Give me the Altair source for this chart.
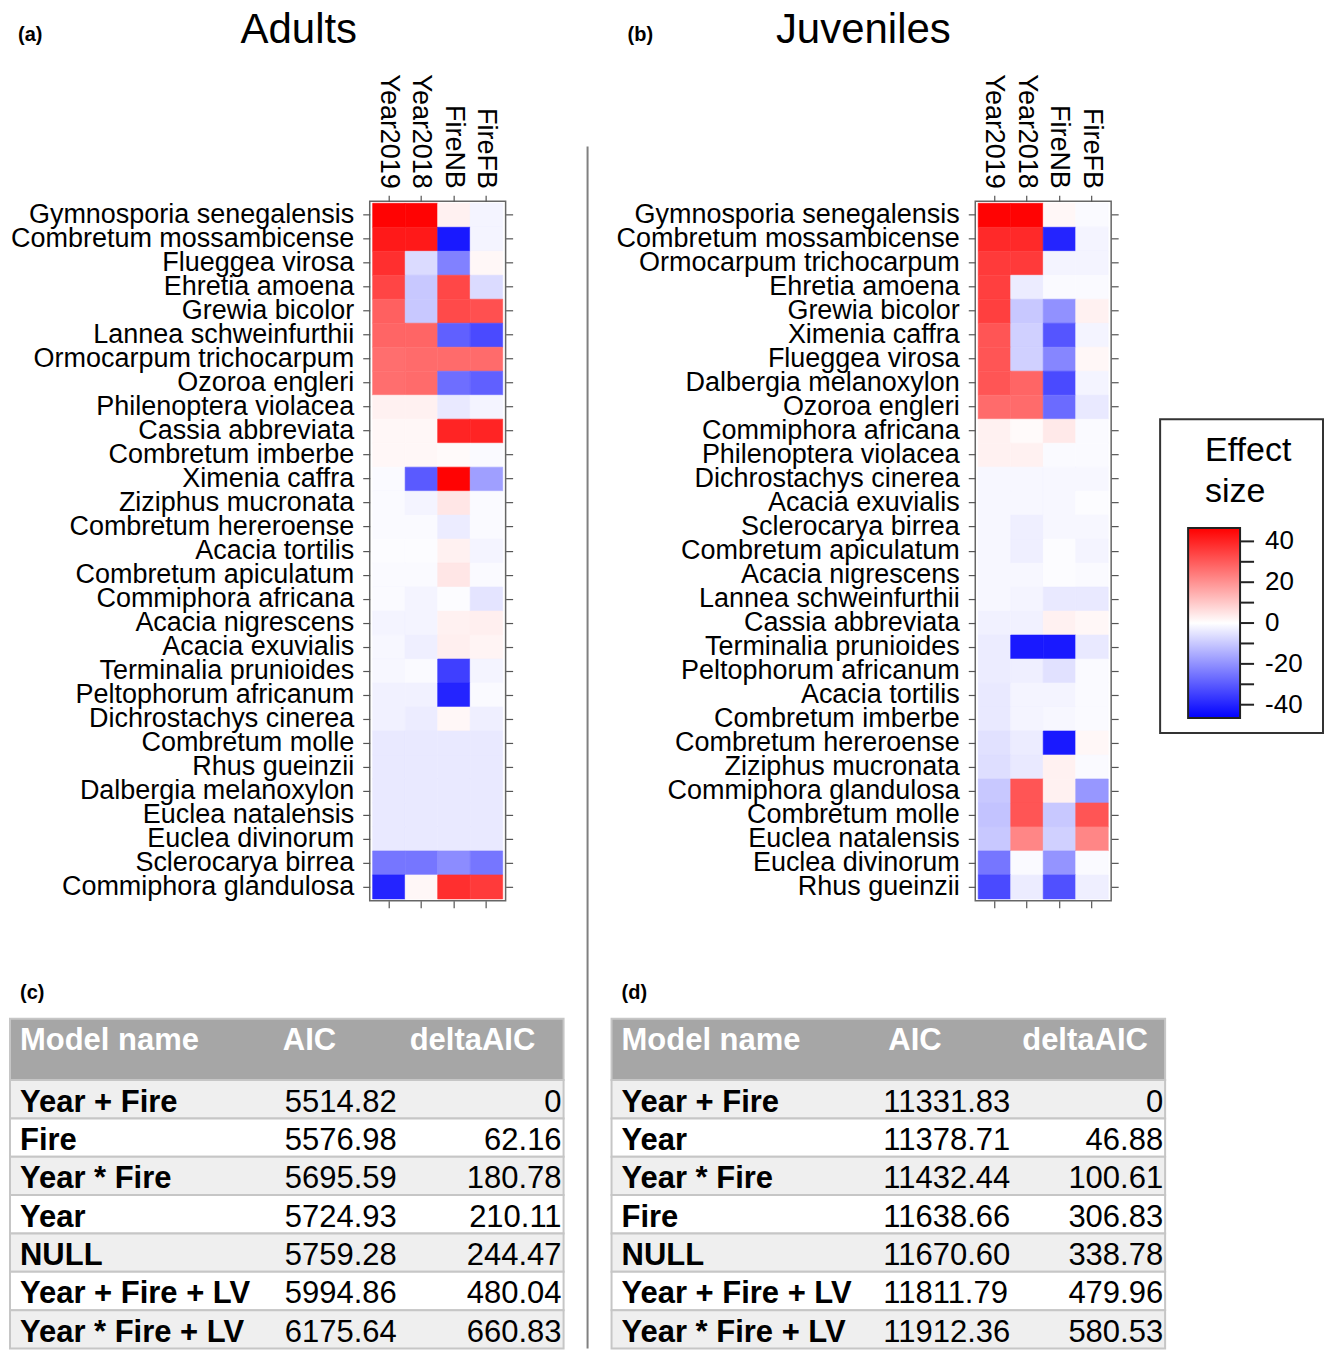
import altair as alt
import pandas as pd

FONT = "Liberation Sans"
TICK = "#555555"

terms = ["Year2019", "Year2018", "FireNB", "FireFB"]

adult_species = [
    "Gymnosporia senegalensis", "Combretum mossambicense", "Flueggea virosa",
    "Ehretia amoena", "Grewia bicolor", "Lannea schweinfurthii",
    "Ormocarpum trichocarpum", "Ozoroa engleri", "Philenoptera violacea",
    "Cassia abbreviata", "Combretum imberbe", "Ximenia caffra",
    "Ziziphus mucronata", "Combretum hereroense", "Acacia tortilis",
    "Combretum apiculatum", "Commiphora africana", "Acacia nigrescens",
    "Acacia exuvialis", "Terminalia prunioides", "Peltophorum africanum",
    "Dichrostachys cinerea", "Combretum molle", "Rhus gueinzii",
    "Dalbergia melanoxylon", "Euclea natalensis", "Euclea divinorum",
    "Sclerocarya birrea", "Commiphora glandulosa",
]
adult_effects = [
    [46, 46, 2.5, -2],
    [42, 42, -42, -2],
    [38, -6.5, -23, 1.5],
    [34, -10, 33.5, -6.5],
    [29, -10, 33, 32],
    [28, 28, -29, -33],
    [26.5, 27, 27, 27],
    [26.5, 27, -26.5, -29],
    [2.5, 2.5, -4, -2],
    [1.5, 1.5, 40, 40],
    [1.5, 1.5, 1, -1],
    [-1, -30, 46, -17.5],
    [-1, -2, 4.5, -1],
    [-1, -1, -3.5, -1],
    [-0.5, -0.5, 2.5, -2],
    [-1, -1, 4.5, -1],
    [-1, -2, -0.5, -5],
    [-2, -2, 2.5, 3],
    [-1.5, -3, 3, 2],
    [-1.5, -1, -35, -2],
    [-2.5, -2.5, -40, -1],
    [-2.5, -3.5, 1.5, -3],
    [-4, -4, -4, -4],
    [-4, -4, -4, -4],
    [-4, -4, -4, -4],
    [-4, -4, -4, -4],
    [-4, -4, -4, -4],
    [-25, -25, -21, -25],
    [-40, 1.5, 38, 36],
]

juvenile_species = [
    "Gymnosporia senegalensis", "Combretum mossambicense", "Ormocarpum trichocarpum",
    "Ehretia amoena", "Grewia bicolor", "Ximenia caffra", "Flueggea virosa",
    "Dalbergia melanoxylon", "Ozoroa engleri", "Commiphora africana",
    "Philenoptera violacea", "Dichrostachys cinerea", "Acacia exuvialis",
    "Sclerocarya birrea", "Combretum apiculatum", "Acacia nigrescens",
    "Lannea schweinfurthii", "Cassia abbreviata", "Terminalia prunioides",
    "Peltophorum africanum", "Acacia tortilis", "Combretum imberbe",
    "Combretum hereroense", "Ziziphus mucronata", "Commiphora glandulosa",
    "Combretum molle", "Euclea natalensis", "Euclea divinorum", "Rhus gueinzii",
]
juvenile_effects = [
    [46, 46, 1.5, -1],
    [39, 39, -40, -2],
    [36, 36, -2, -2],
    [35, -3.5, -1, -1],
    [35, -10, -20, 2.5],
    [31, -8.5, -31, -2],
    [31, -8.5, -22, 1.5],
    [31, 28, -33, -2],
    [27, 27, -27, -4],
    [2.5, 1, 4, -1],
    [2.5, 2.5, -1, -1],
    [-1.5, -1.5, -1.5, -1.5],
    [-1.5, -1.5, -1.5, -0.5],
    [-1.5, -3, -1.5, -1.5],
    [-1.5, -3, -0.5, -2],
    [-1.5, -1.5, -0.5, -1],
    [-1.5, -2, -4, -4],
    [-2.5, -2.5, 2.5, 1.5],
    [-3.5, -42, -42, -4],
    [-3.5, -3, -5.5, -1],
    [-4, -2, -2, -1],
    [-4, -2, -1.5, -1],
    [-5.5, -3.5, -42, 1.5],
    [-6, -4, 2.5, -1],
    [-10, 31, 2.5, -19],
    [-11, 31, -10, 31],
    [-10, 22, -8.5, 22],
    [-25, -1, -19.5, -1],
    [-33, -3.5, -32, -3],
]

legend_range = [-46.5, 46.5]
legend_ticks = [-40, -30, -20, -10, 0, 10, 20, 30, 40]
legend_labels = [40, 20, 0, -20, -40]

table_header = ["Model name", "AIC", "deltaAIC"]

adult_models = ["Year + Fire", "Fire", "Year * Fire", "Year", "NULL",
                "Year + Fire + LV", "Year * Fire + LV"]
adult_aic = [5514.82, 5576.98, 5695.59, 5724.93, 5759.28, 5994.86, 6175.64]
adult_delta = [0, 62.16, 180.78, 210.11, 244.47, 480.04, 660.83]

juvenile_models = ["Year + Fire", "Year", "Year * Fire", "Fire", "NULL",
                   "Year + Fire + LV", "Year * Fire + LV"]
juvenile_aic = [11331.83, 11378.71, 11432.44, 11638.66, 11670.60, 11811.79, 11912.36]
juvenile_delta = [0, 46.88, 100.61, 306.83, 338.78, 479.96, 580.53]

cscale = alt.Scale(domain=[legend_range[0], 0, legend_range[1]],
                   range=["#0000ff", "#ffffff", "#ff0000"],
                   interpolate="rgb", clamp=True)

HM_H = 700          # heatmap plot height
ROW_GAP = 118       # from heatmap bottom to table top
TB_H = 330          # table height
TB_W = 554          # table width


def one_text(txt, x, y, **kw):
    return alt.Chart(pd.DataFrame({"t": [txt]})).mark_text(font=FONT, **kw).encode(
        text="t:N", x=alt.value(x), y=alt.value(y))


def heatmap(species, effects, title_txt, title_x, panel_txt, panel_x):
    df = pd.DataFrame([
        {"species": s, "term": t, "effect": v}
        for s, row in zip(species, effects) for t, v in zip(terms, row)
    ])
    xs = alt.Scale(domain=terms, paddingInner=0, paddingOuter=0.09)
    ys = alt.Scale(domain=species, paddingInner=0, paddingOuter=0.08)
    common = dict(title=None, domain=False, tickColor=TICK, tickWidth=1.2,
                  labelFont=FONT, labelColor="black", labelOverlap=False)
    cells = alt.Chart(df).mark_rect(strokeWidth=0.6).encode(
        x=alt.X("term:N", scale=xs, axis=alt.Axis(
            orient="top", labelAngle=90, labelAlign="right", labelBaseline="middle",
            tickSize=6, labelPadding=7, labelFontSize=27, labelLimit=400, **common)),
        y=alt.Y("species:N", scale=ys, axis=alt.Axis(
            orient="left", tickSize=7, labelPadding=9, labelFontSize=27,
            labelLimit=500, **common)),
        color=alt.Color("effect:Q", scale=cscale, legend=None),
        stroke=alt.Stroke("effect:Q", scale=cscale, legend=None),
    )
    frame = alt.Chart(df).mark_rect(opacity=0).encode(
        x=alt.X("term:N", scale=xs, axis=alt.Axis(
            orient="bottom", labels=False, tickSize=7, **common)),
        y=alt.Y("species:N", scale=ys, axis=alt.Axis(
            orient="right", labels=False, tickSize=7, **common)),
    )
    title = one_text(title_txt, title_x, -158, fontSize=42, align="center",
                     baseline="alphabetic", color="black")
    panel = one_text(panel_txt, panel_x, -160, fontSize=20, fontWeight="bold",
                     align="left", baseline="alphabetic", color="black")
    return [cells, frame, title, panel]


def dummy():
    return alt.Chart(pd.DataFrame({"a": [0]}))


# ---- panel (a)
A = alt.layer(*heatmap(adult_species, adult_effects, "Adults", -71, "(a)", -352)).resolve_scale(
    x="independent", y="independent").properties(
    width=136, height=HM_H, view=alt.ViewBackground(stroke="#666666", strokeWidth=1.5))

# ---- panel (b) with the separator line and colour key
k = 190 / (legend_range[1] - legend_range[0])
centre = 422
lscale = alt.Scale(domain=[(centre - HM_H) / k, centre / k], nice=False, zero=False)
separator = dummy().mark_rule(color="#808080", strokeWidth=2).encode(
    x=alt.value(-388), y=alt.value(-55), y2=alt.value(HM_H + ROW_GAP + TB_H))
key_box = dummy().mark_rect(fillOpacity=0, stroke="#333333", strokeWidth=2).encode(
    x=alt.value(185), x2=alt.value(348), y=alt.value(218), y2=alt.value(532))
key_bar = alt.Chart(pd.DataFrame({"lo": [legend_range[0]], "hi": [legend_range[1]]})).mark_rect(
    fill=alt.Gradient(gradient="linear",
                      stops=[alt.GradientStop(color="#0000ff", offset=0),
                             alt.GradientStop(color="#ffffff", offset=0.5),
                             alt.GradientStop(color="#ff0000", offset=1)],
                      x1=0, x2=0, y1=1, y2=0),
    stroke="#222222", strokeWidth=2).encode(
    x=alt.value(213), x2=alt.value(265),
    y=alt.Y("lo:Q", scale=lscale, axis=None), y2="hi:Q")
key_ticks = alt.Chart(pd.DataFrame({"v": legend_ticks})).mark_rule(
    color="#222222", strokeWidth=2).encode(
    x=alt.value(265), x2=alt.value(279), y=alt.Y("v:Q", scale=lscale, axis=None))
key_labels = alt.Chart(pd.DataFrame({"v": legend_labels,
                                     "s": [str(v) for v in legend_labels]})).mark_text(
    font=FONT, fontSize=26, align="left", baseline="middle", color="black").encode(
    x=alt.value(290), y=alt.Y("v:Q", scale=lscale, axis=None), text="s:N")
key_t1 = one_text("Effect", 230, 260, fontSize=34, align="left", baseline="alphabetic", color="black")
key_t2 = one_text("size", 230, 301, fontSize=34, align="left", baseline="alphabetic", color="black")

B = alt.layer(*heatmap(juvenile_species, juvenile_effects, "Juveniles", -112, "(b)", -348),
              separator, key_box, key_bar, key_ticks, key_labels, key_t1, key_t2).resolve_scale(
    x="independent", y="independent").properties(
    width=136, height=HM_H, view=alt.ViewBackground(stroke="#666666", strokeWidth=1.5))


# ---- tables (drawn left of their grid origin so that the origin lines up
#      with the heatmap above it)
def table(models, aic, delta, ox, head_x, aic_x, panel_txt):
    n = len(models)
    df = pd.DataFrame({
        "model": models,
        "aic": [f"{v:.2f}" for v in aic],
        "delta": ["0" if d == 0 else f"{d:.2f}" for d in delta],
        "top": [1.6 + i for i in range(n)],
    })
    df["bot"] = df["top"] + 1
    df["ty"] = df["top"] + 0.82
    df["shade"] = ["#efefef" if i % 2 == 0 else "#ffffff" for i in range(n)]
    ys = alt.Scale(domain=[0, 1.6 + n], reverse=True, nice=False, zero=False)
    rows = alt.Chart(df).mark_rect(stroke="#c6c6c6", strokeWidth=2).encode(
        x=alt.value(ox), x2=alt.value(ox + TB_W),
        y=alt.Y("top:Q", scale=ys, axis=None), y2="bot:Q",
        fill=alt.Fill("shade:N", scale=None))
    head = alt.Chart(pd.DataFrame({"top": [0.0], "bot": [1.6]})).mark_rect(
        fill="#a6a6a6", stroke="#c6c6c6", strokeWidth=2).encode(
        x=alt.value(ox), x2=alt.value(ox + TB_W),
        y=alt.Y("top:Q", scale=ys, axis=None), y2="bot:Q")
    layers = [head, rows]
    for lab, hx in zip(table_header, head_x):
        layers.append(alt.Chart(pd.DataFrame({"t": [lab], "y": [0.82]})).mark_text(
            font=FONT, fontSize=31, fontWeight="bold", color="white",
            align="left", baseline="alphabetic").encode(
            text="t:N", x=alt.value(ox + hx), y=alt.Y("y:Q", scale=ys, axis=None)))
    layers.append(alt.Chart(df).mark_text(
        font=FONT, fontSize=31, fontWeight="bold", color="black",
        align="left", baseline="alphabetic").encode(
        text="model:N", x=alt.value(ox + 10), y=alt.Y("ty:Q", scale=ys, axis=None)))
    layers.append(alt.Chart(df).mark_text(
        font=FONT, fontSize=31, color="black",
        align="left", baseline="alphabetic").encode(
        text="aic:N", x=alt.value(ox + aic_x), y=alt.Y("ty:Q", scale=ys, axis=None)))
    layers.append(alt.Chart(df).mark_text(
        font=FONT, fontSize=31, color="black",
        align="right", baseline="alphabetic").encode(
        text="delta:N", x=alt.value(ox + TB_W - 2), y=alt.Y("ty:Q", scale=ys, axis=None)))
    layers.append(one_text(panel_txt, ox + 10, -20, fontSize=20, fontWeight="bold",
                           align="left", baseline="alphabetic", color="black"))
    return alt.layer(*layers).properties(
        width=ox + TB_W, height=TB_H, view=alt.ViewBackground(stroke="transparent"))


C = table(adult_models, adult_aic, adult_delta, -360, [10, 273, 400], 275, "(c)")
D = table(juvenile_models, juvenile_aic, juvenile_delta, -364, [10, 277, 411], 272, "(d)")

# grid origins: heatmap (a) at x=369, heatmap (b) at x=975; tables 118 px below heatmaps
col_gap = 606 - (TB_W - 360)
chart = alt.concat(A, B, C, D, columns=2, bounds="flush",
                   spacing={"row": ROW_GAP, "column": col_gap}).properties(
    padding=0, background="white"
).configure_view(stroke="transparent").configure_text(font=FONT)

chart.save("out.html", embed_options={"renderer": "svg", "actions": False})
